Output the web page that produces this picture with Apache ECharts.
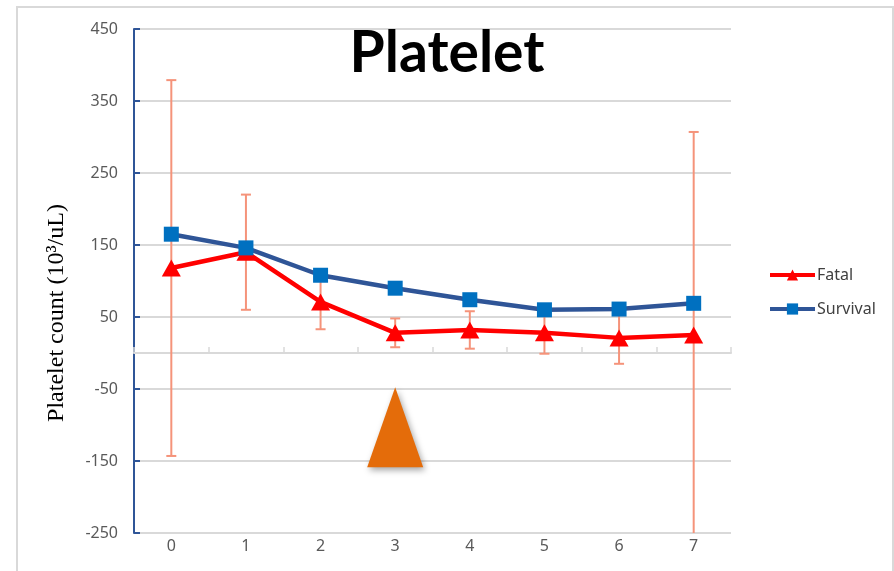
<!DOCTYPE html>
<html>
<head>
<meta charset="utf-8">
<script src="https://cdn.jsdelivr.net/npm/echarts@6/dist/echarts.min.js"></script>
<style>
  html, body { margin: 0; padding: 0; background: #fff; }
  #chart { width: 894px; height: 571px; }
</style>
</head>
<body>
<div id="chart"></div>
<script>
// days after admission
var days = ['0', '1', '2', '3', '4', '5', '6', '7'];
var yTicks = [-250, -150, -50, 50, 150, 250, 350, 450];

// platelet means (10^3/uL)
var fatal = [118, 140, 71, 28, 32, 28, 21, 25];
var survival = [165, 146, 108, 90, 74, 60, 61, 69];

// error bar extent (+/-) for the fatal group
var fatalErr = [261, 80, 38, 20, 26, 29, 36, 282];

// arrow annotation under day 3
var arrowAt = ['3', -103];

var chart = echarts.init(document.getElementById('chart'));

var errData = fatal.map(function(v, i) {
    return [i, v - fatalErr[i], v + fatalErr[i]];
});

// vertical bar with caps, cut at the plot edges
function renderErr(params, api) {
    var x = api.coord([api.value(0), 0])[0];
    var lo = api.coord([api.value(0), api.value(1)])[1];
    var hi = api.coord([api.value(0), api.value(2)])[1];
    var rect = params.coordSys;
    var top = rect.y, bottom = rect.y + rect.height;
    var style = { stroke: '#f5937a', lineWidth: 2 };
    var kids = [];
    var y1 = Math.max(hi, top), y2 = Math.min(lo, bottom);
    kids.push({ type: 'line', shape: { x1: x, y1: y1, x2: x, y2: y2 }, style: style });
    if (hi >= top) kids.push({ type: 'line', shape: { x1: x - 5, y1: hi, x2: x + 5, y2: hi }, style: style });
    if (lo <= bottom) kids.push({ type: 'line', shape: { x1: x - 5, y1: lo, x2: x + 5, y2: lo }, style: style });
    return { type: 'group', children: kids };
}

var labelFont = { fontFamily: 'Noto Sans', fontSize: 16, color: '#595959' };

var option = {
    animation: false,
    backgroundColor: '#fff',
    title: {
        text: 'Platelet',
        left: 'center',
        top: 20,
        textStyle: { fontFamily: 'Lato', fontWeight: 'bold', fontSize: 57, color: '#000' }
    },
    graphic: [{
        type: 'rect',
        shape: { x: 17, y: 7, width: 876, height: 600 },
        style: { fill: 'none', stroke: '#d9d9d9', lineWidth: 2 },
        silent: true
    }, {
        type: 'text',
        x: 57, y: 313,
        rotation: Math.PI / 2,
        style: {
            text: 'Platelet count (10³/uL)',
            font: '24px "Liberation Serif"',
            fill: '#000',
            align: 'center',
            verticalAlign: 'middle'
        }
    }],
    legend: {
        orient: 'vertical',
        left: 763,
        top: 262,
        itemWidth: 45,
        itemHeight: 14,
        itemGap: 18,
        lineStyle: { width: 4 },
        textStyle: { fontFamily: 'Noto Sans', fontSize: 16, color: '#404040', padding: [0, 0, 0, -3] },
        data: ['Fatal', 'Survival']
    },
    grid: { left: 134, right: 163, top: 29, bottom: 38 },
    xAxis: [{
        type: 'category',
        data: days,
        boundaryGap: true,
        axisLine: { onZero: true, lineStyle: { color: '#d9d9d9', width: 2 } },
        axisTick: { show: true, inside: true, length: 6, lineStyle: { color: '#d9d9d9', width: 1.5 } },
        axisLabel: { show: false },
        splitLine: { show: false }
    }, {
        type: 'category',
        data: days,
        position: 'bottom',
        boundaryGap: true,
        axisLine: { show: false, onZero: false },
        axisTick: { show: false },
        axisLabel: Object.assign({ margin: 5 }, labelFont)
    }],
    yAxis: {
        type: 'value',
        min: yTicks[0],
        max: yTicks[yTicks.length - 1],
        interval: 100,
        axisLine: { show: true, lineStyle: { color: '#2f5597', width: 2 } },
        axisTick: { show: true, inside: true, length: 6, lineStyle: { color: '#2f5597', width: 2 } },
        axisLabel: Object.assign({ margin: 16 }, labelFont),
        splitLine: { lineStyle: { color: '#d9d9d9', width: 2 } }
    },
    series: [{
        name: 'err',
        type: 'custom',
        xAxisIndex: 0,
        renderItem: renderErr,
        data: errData,
        z: 1,
        silent: true
    }, {
        name: 'Fatal',
        type: 'line',
        data: fatal,
        symbol: 'triangle',
        symbolSize: [19, 17],
        lineStyle: { color: '#ff0000', width: 4.5 },
        itemStyle: { color: '#ff0000' },
        z: 3,
        markPoint: {
            silent: true,
            symbol: 'triangle',
            symbolSize: [56, 80],
            itemStyle: {
                color: '#e46c0a',
                shadowColor: 'rgba(0,0,0,0.35)',
                shadowBlur: 6,
                shadowOffsetX: 2,
                shadowOffsetY: 3
            },
            label: { show: false },
            data: [{ coord: arrowAt }]
        }
    }, {
        name: 'Survival',
        type: 'line',
        data: survival,
        symbol: 'rect',
        symbolSize: 15,
        lineStyle: { color: '#2f5597', width: 4.5 },
        itemStyle: { color: '#0070c0' },
        z: 4
    }]
};

chart.setOption(option);
</script>
</body>
</html>
